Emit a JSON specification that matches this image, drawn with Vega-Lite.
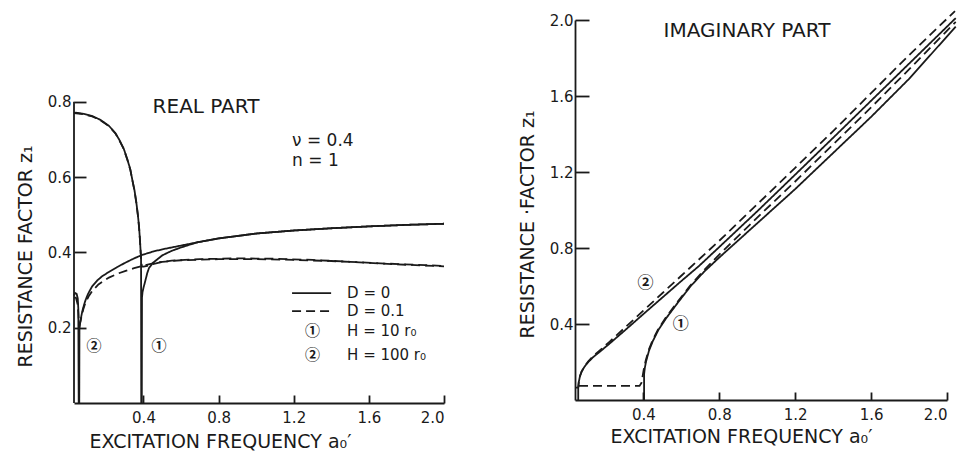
{
  "$schema": "https://vega.github.io/schema/vega-lite/v6.json",
  "background": "white",
  "padding": {"left": 16, "top": 7, "right": 5, "bottom": 5},
  "spacing": 131,
  "bounds": "flush",
  "config": {
    "font": "DejaVu Sans",
    "view": {"stroke": null},
    "axis": {
      "grid": false,
      "domainColor": "#1a1a1a",
      "tickColor": "#1a1a1a",
      "labelColor": "#1a1a1a",
      "titleColor": "#1a1a1a",
      "labelFont": "DejaVu Sans",
      "titleFont": "DejaVu Sans",
      "titleFontWeight": "normal",
      "domainWidth": 1.8,
      "tickWidth": 1.8,
      "labelFontSize": 15,
      "titleFontSize": 19
    }
  },
  "datasets": {
    "leftCurves": [
      {"curve": "s1", "dash": "solid", "i": 1, "x": 0.03, "y": 0.77},
      {"curve": "s1", "dash": "solid", "i": 2, "x": 0.04, "y": 0.771},
      {"curve": "s1", "dash": "solid", "i": 3, "x": 0.08, "y": 0.768},
      {"curve": "s1", "dash": "solid", "i": 4, "x": 0.127, "y": 0.762},
      {"curve": "s1", "dash": "solid", "i": 5, "x": 0.17, "y": 0.752},
      {"curve": "s1", "dash": "solid", "i": 6, "x": 0.216, "y": 0.736},
      {"curve": "s1", "dash": "solid", "i": 7, "x": 0.25, "y": 0.717},
      {"curve": "s1", "dash": "solid", "i": 8, "x": 0.27, "y": 0.7},
      {"curve": "s1", "dash": "solid", "i": 9, "x": 0.295, "y": 0.675},
      {"curve": "s1", "dash": "solid", "i": 10, "x": 0.314, "y": 0.647},
      {"curve": "s1", "dash": "solid", "i": 11, "x": 0.33, "y": 0.62},
      {"curve": "s1", "dash": "solid", "i": 12, "x": 0.34, "y": 0.594},
      {"curve": "s1", "dash": "solid", "i": 13, "x": 0.352, "y": 0.565},
      {"curve": "s1", "dash": "solid", "i": 14, "x": 0.362, "y": 0.532},
      {"curve": "s1", "dash": "solid", "i": 15, "x": 0.37, "y": 0.5},
      {"curve": "s1", "dash": "solid", "i": 16, "x": 0.376, "y": 0.47},
      {"curve": "s1", "dash": "solid", "i": 17, "x": 0.381, "y": 0.435},
      {"curve": "s1", "dash": "solid", "i": 18, "x": 0.385, "y": 0.4},
      {"curve": "s1", "dash": "solid", "i": 19, "x": 0.387, "y": 0.39},
      {"curve": "s1", "dash": "solid", "i": 20, "x": 0.388, "y": 0.0},
      {"curve": "s1", "dash": "solid", "i": 21, "x": 0.391, "y": 0.0},
      {"curve": "s1", "dash": "solid", "i": 22, "x": 0.392, "y": 0.28},
      {"curve": "s1", "dash": "solid", "i": 23, "x": 0.395, "y": 0.295},
      {"curve": "s1", "dash": "solid", "i": 24, "x": 0.4, "y": 0.306},
      {"curve": "s1", "dash": "solid", "i": 25, "x": 0.41, "y": 0.325},
      {"curve": "s1", "dash": "solid", "i": 26, "x": 0.42, "y": 0.345},
      {"curve": "s1", "dash": "solid", "i": 27, "x": 0.429, "y": 0.358},
      {"curve": "s1", "dash": "solid", "i": 28, "x": 0.45, "y": 0.372},
      {"curve": "s1", "dash": "solid", "i": 29, "x": 0.5, "y": 0.392},
      {"curve": "s1", "dash": "solid", "i": 30, "x": 0.55, "y": 0.404},
      {"curve": "s1", "dash": "solid", "i": 31, "x": 0.6, "y": 0.413},
      {"curve": "s1", "dash": "solid", "i": 32, "x": 0.65, "y": 0.421},
      {"curve": "s1", "dash": "solid", "i": 33, "x": 0.69, "y": 0.427},
      {"curve": "s1", "dash": "solid", "i": 34, "x": 0.8, "y": 0.437},
      {"curve": "s1", "dash": "solid", "i": 35, "x": 1.0, "y": 0.45},
      {"curve": "s1", "dash": "solid", "i": 36, "x": 1.2, "y": 0.458},
      {"curve": "s1", "dash": "solid", "i": 37, "x": 1.4, "y": 0.464},
      {"curve": "s1", "dash": "solid", "i": 38, "x": 1.6, "y": 0.469},
      {"curve": "s1", "dash": "solid", "i": 39, "x": 1.8, "y": 0.473},
      {"curve": "s1", "dash": "solid", "i": 40, "x": 2.0, "y": 0.476},

      {"curve": "s2", "dash": "solid", "i": 1, "x": 0.03, "y": 0.285},
      {"curve": "s2", "dash": "solid", "i": 2, "x": 0.036, "y": 0.292},
      {"curve": "s2", "dash": "solid", "i": 3, "x": 0.044, "y": 0.29},
      {"curve": "s2", "dash": "solid", "i": 4, "x": 0.05, "y": 0.278},
      {"curve": "s2", "dash": "solid", "i": 5, "x": 0.053, "y": 0.25},
      {"curve": "s2", "dash": "solid", "i": 6, "x": 0.055, "y": 0.0},
      {"curve": "s2", "dash": "solid", "i": 7, "x": 0.058, "y": 0.0},
      {"curve": "s2", "dash": "solid", "i": 8, "x": 0.059, "y": 0.195},
      {"curve": "s2", "dash": "solid", "i": 9, "x": 0.062, "y": 0.21},
      {"curve": "s2", "dash": "solid", "i": 10, "x": 0.068, "y": 0.228},
      {"curve": "s2", "dash": "solid", "i": 11, "x": 0.074, "y": 0.243},
      {"curve": "s2", "dash": "solid", "i": 12, "x": 0.083, "y": 0.26},
      {"curve": "s2", "dash": "solid", "i": 13, "x": 0.092, "y": 0.274},
      {"curve": "s2", "dash": "solid", "i": 14, "x": 0.105, "y": 0.29},
      {"curve": "s2", "dash": "solid", "i": 15, "x": 0.127, "y": 0.31},
      {"curve": "s2", "dash": "solid", "i": 16, "x": 0.155, "y": 0.326},
      {"curve": "s2", "dash": "solid", "i": 17, "x": 0.181, "y": 0.337},
      {"curve": "s2", "dash": "solid", "i": 18, "x": 0.216, "y": 0.348},
      {"curve": "s2", "dash": "solid", "i": 19, "x": 0.26, "y": 0.361},
      {"curve": "s2", "dash": "solid", "i": 20, "x": 0.305, "y": 0.373},
      {"curve": "s2", "dash": "solid", "i": 21, "x": 0.35, "y": 0.384},
      {"curve": "s2", "dash": "solid", "i": 22, "x": 0.392, "y": 0.393},
      {"curve": "s2", "dash": "solid", "i": 23, "x": 0.45, "y": 0.402},
      {"curve": "s2", "dash": "solid", "i": 24, "x": 0.5, "y": 0.408},
      {"curve": "s2", "dash": "solid", "i": 25, "x": 0.6, "y": 0.418},
      {"curve": "s2", "dash": "solid", "i": 26, "x": 0.69, "y": 0.427},
      {"curve": "s2", "dash": "solid", "i": 27, "x": 0.8, "y": 0.437},
      {"curve": "s2", "dash": "solid", "i": 28, "x": 1.0, "y": 0.45},
      {"curve": "s2", "dash": "solid", "i": 29, "x": 1.2, "y": 0.458},
      {"curve": "s2", "dash": "solid", "i": 30, "x": 1.4, "y": 0.464},
      {"curve": "s2", "dash": "solid", "i": 31, "x": 1.6, "y": 0.469},
      {"curve": "s2", "dash": "solid", "i": 32, "x": 1.8, "y": 0.473},
      {"curve": "s2", "dash": "solid", "i": 33, "x": 2.0, "y": 0.476},

      {"curve": "d1", "dash": "dashed", "i": 1, "x": 0.03, "y": 0.77},
      {"curve": "d1", "dash": "dashed", "i": 2, "x": 0.08, "y": 0.767},
      {"curve": "d1", "dash": "dashed", "i": 3, "x": 0.127, "y": 0.761},
      {"curve": "d1", "dash": "dashed", "i": 4, "x": 0.17, "y": 0.751},
      {"curve": "d1", "dash": "dashed", "i": 5, "x": 0.216, "y": 0.735},
      {"curve": "d1", "dash": "dashed", "i": 6, "x": 0.25, "y": 0.716},
      {"curve": "d1", "dash": "dashed", "i": 7, "x": 0.27, "y": 0.699},
      {"curve": "d1", "dash": "dashed", "i": 8, "x": 0.295, "y": 0.674},
      {"curve": "d1", "dash": "dashed", "i": 9, "x": 0.314, "y": 0.646},
      {"curve": "d1", "dash": "dashed", "i": 10, "x": 0.33, "y": 0.619},
      {"curve": "d1", "dash": "dashed", "i": 11, "x": 0.34, "y": 0.593},
      {"curve": "d1", "dash": "dashed", "i": 12, "x": 0.352, "y": 0.564},
      {"curve": "d1", "dash": "dashed", "i": 13, "x": 0.362, "y": 0.531},
      {"curve": "d1", "dash": "dashed", "i": 14, "x": 0.37, "y": 0.499},
      {"curve": "d1", "dash": "dashed", "i": 15, "x": 0.376, "y": 0.469},
      {"curve": "d1", "dash": "dashed", "i": 16, "x": 0.381, "y": 0.434},
      {"curve": "d1", "dash": "dashed", "i": 17, "x": 0.385, "y": 0.4},
      {"curve": "d1", "dash": "dashed", "i": 18, "x": 0.388, "y": 0.375},
      {"curve": "d1", "dash": "dashed", "i": 19, "x": 0.392, "y": 0.362},
      {"curve": "d1", "dash": "dashed", "i": 20, "x": 0.4, "y": 0.362},
      {"curve": "d1", "dash": "dashed", "i": 21, "x": 0.42, "y": 0.364},
      {"curve": "d1", "dash": "dashed", "i": 22, "x": 0.45, "y": 0.369},
      {"curve": "d1", "dash": "dashed", "i": 23, "x": 0.483, "y": 0.373},
      {"curve": "d1", "dash": "dashed", "i": 24, "x": 0.55, "y": 0.378},
      {"curve": "d1", "dash": "dashed", "i": 25, "x": 0.7, "y": 0.382},
      {"curve": "d1", "dash": "dashed", "i": 26, "x": 0.9, "y": 0.384},
      {"curve": "d1", "dash": "dashed", "i": 27, "x": 1.1, "y": 0.383},
      {"curve": "d1", "dash": "dashed", "i": 28, "x": 1.3, "y": 0.38},
      {"curve": "d1", "dash": "dashed", "i": 29, "x": 1.5, "y": 0.375},
      {"curve": "d1", "dash": "dashed", "i": 30, "x": 1.7, "y": 0.37},
      {"curve": "d1", "dash": "dashed", "i": 31, "x": 1.9, "y": 0.366},
      {"curve": "d1", "dash": "dashed", "i": 32, "x": 2.0, "y": 0.364},

      {"curve": "d2", "dash": "dashed", "i": 1, "x": 0.03, "y": 0.28},
      {"curve": "d2", "dash": "dashed", "i": 2, "x": 0.04, "y": 0.28},
      {"curve": "d2", "dash": "dashed", "i": 3, "x": 0.048, "y": 0.265},
      {"curve": "d2", "dash": "dashed", "i": 4, "x": 0.053, "y": 0.24},
      {"curve": "d2", "dash": "dashed", "i": 5, "x": 0.056, "y": 0.215},
      {"curve": "d2", "dash": "dashed", "i": 6, "x": 0.06, "y": 0.208},
      {"curve": "d2", "dash": "dashed", "i": 7, "x": 0.068, "y": 0.225},
      {"curve": "d2", "dash": "dashed", "i": 8, "x": 0.08, "y": 0.25},
      {"curve": "d2", "dash": "dashed", "i": 9, "x": 0.092, "y": 0.268},
      {"curve": "d2", "dash": "dashed", "i": 10, "x": 0.11, "y": 0.285},
      {"curve": "d2", "dash": "dashed", "i": 11, "x": 0.127, "y": 0.297},
      {"curve": "d2", "dash": "dashed", "i": 12, "x": 0.16, "y": 0.315},
      {"curve": "d2", "dash": "dashed", "i": 13, "x": 0.216, "y": 0.333},
      {"curve": "d2", "dash": "dashed", "i": 14, "x": 0.26, "y": 0.343},
      {"curve": "d2", "dash": "dashed", "i": 15, "x": 0.305, "y": 0.351},
      {"curve": "d2", "dash": "dashed", "i": 16, "x": 0.35, "y": 0.358},
      {"curve": "d2", "dash": "dashed", "i": 17, "x": 0.392, "y": 0.364},
      {"curve": "d2", "dash": "dashed", "i": 18, "x": 0.45, "y": 0.371},
      {"curve": "d2", "dash": "dashed", "i": 19, "x": 0.5, "y": 0.375},
      {"curve": "d2", "dash": "dashed", "i": 20, "x": 0.6, "y": 0.379},
      {"curve": "d2", "dash": "dashed", "i": 21, "x": 0.8, "y": 0.382},
      {"curve": "d2", "dash": "dashed", "i": 22, "x": 1.0, "y": 0.382},
      {"curve": "d2", "dash": "dashed", "i": 23, "x": 1.2, "y": 0.38},
      {"curve": "d2", "dash": "dashed", "i": 24, "x": 1.4, "y": 0.377},
      {"curve": "d2", "dash": "dashed", "i": 25, "x": 1.6, "y": 0.372},
      {"curve": "d2", "dash": "dashed", "i": 26, "x": 1.8, "y": 0.367},
      {"curve": "d2", "dash": "dashed", "i": 27, "x": 2.0, "y": 0.363},

      {"curve": "legS", "dash": "solid", "i": 1, "x": 1.191, "y": 0.292},
      {"curve": "legS", "dash": "solid", "i": 2, "x": 1.399, "y": 0.292},
      {"curve": "legD", "dash": "dashed", "i": 1, "x": 1.191, "y": 0.244},
      {"curve": "legD", "dash": "dashed", "i": 2, "x": 1.399, "y": 0.244}
    ],
    "rightCurves": [
      {"curve": "s2", "dash": "solid", "i": 1, "x": 0.057, "y": 0.0},
      {"curve": "s2", "dash": "solid", "i": 2, "x": 0.057, "y": 0.065},
      {"curve": "s2", "dash": "solid", "i": 3, "x": 0.06, "y": 0.095},
      {"curve": "s2", "dash": "solid", "i": 4, "x": 0.066, "y": 0.125},
      {"curve": "s2", "dash": "solid", "i": 5, "x": 0.075, "y": 0.15},
      {"curve": "s2", "dash": "solid", "i": 6, "x": 0.09, "y": 0.175},
      {"curve": "s2", "dash": "solid", "i": 7, "x": 0.11, "y": 0.2},
      {"curve": "s2", "dash": "solid", "i": 8, "x": 0.135, "y": 0.225},
      {"curve": "s2", "dash": "solid", "i": 9, "x": 0.166, "y": 0.25},
      {"curve": "s2", "dash": "solid", "i": 10, "x": 0.22, "y": 0.295},
      {"curve": "s2", "dash": "solid", "i": 11, "x": 0.3, "y": 0.364},
      {"curve": "s2", "dash": "solid", "i": 12, "x": 0.4, "y": 0.452},
      {"curve": "s2", "dash": "solid", "i": 13, "x": 0.5, "y": 0.539},
      {"curve": "s2", "dash": "solid", "i": 14, "x": 0.6, "y": 0.626},
      {"curve": "s2", "dash": "solid", "i": 15, "x": 0.693, "y": 0.705},
      {"curve": "s2", "dash": "solid", "i": 16, "x": 0.8, "y": 0.805},
      {"curve": "s2", "dash": "solid", "i": 17, "x": 1.0, "y": 0.993},
      {"curve": "s2", "dash": "solid", "i": 18, "x": 1.2, "y": 1.186},
      {"curve": "s2", "dash": "solid", "i": 19, "x": 1.4, "y": 1.38},
      {"curve": "s2", "dash": "solid", "i": 20, "x": 1.6, "y": 1.575},
      {"curve": "s2", "dash": "solid", "i": 21, "x": 1.8, "y": 1.77},
      {"curve": "s2", "dash": "solid", "i": 22, "x": 2.046, "y": 2.01},

      {"curve": "d2", "dash": "dashed", "i": 1, "x": 0.04, "y": 0.065},
      {"curve": "d2", "dash": "dashed", "i": 2, "x": 0.057, "y": 0.065},
      {"curve": "d2", "dash": "dashed", "i": 3, "x": 0.06, "y": 0.095},
      {"curve": "d2", "dash": "dashed", "i": 4, "x": 0.066, "y": 0.125},
      {"curve": "d2", "dash": "dashed", "i": 5, "x": 0.075, "y": 0.15},
      {"curve": "d2", "dash": "dashed", "i": 6, "x": 0.09, "y": 0.177},
      {"curve": "d2", "dash": "dashed", "i": 7, "x": 0.11, "y": 0.203},
      {"curve": "d2", "dash": "dashed", "i": 8, "x": 0.135, "y": 0.23},
      {"curve": "d2", "dash": "dashed", "i": 9, "x": 0.166, "y": 0.257},
      {"curve": "d2", "dash": "dashed", "i": 10, "x": 0.22, "y": 0.305},
      {"curve": "d2", "dash": "dashed", "i": 11, "x": 0.3, "y": 0.378},
      {"curve": "d2", "dash": "dashed", "i": 12, "x": 0.4, "y": 0.47},
      {"curve": "d2", "dash": "dashed", "i": 13, "x": 0.5, "y": 0.562},
      {"curve": "d2", "dash": "dashed", "i": 14, "x": 0.6, "y": 0.654},
      {"curve": "d2", "dash": "dashed", "i": 15, "x": 0.7, "y": 0.746},
      {"curve": "d2", "dash": "dashed", "i": 16, "x": 0.8, "y": 0.838},
      {"curve": "d2", "dash": "dashed", "i": 17, "x": 1.0, "y": 1.03},
      {"curve": "d2", "dash": "dashed", "i": 18, "x": 1.2, "y": 1.222},
      {"curve": "d2", "dash": "dashed", "i": 19, "x": 1.4, "y": 1.415},
      {"curve": "d2", "dash": "dashed", "i": 20, "x": 1.6, "y": 1.615},
      {"curve": "d2", "dash": "dashed", "i": 21, "x": 1.8, "y": 1.815},
      {"curve": "d2", "dash": "dashed", "i": 22, "x": 2.042, "y": 2.047},

      {"curve": "s1", "dash": "solid", "i": 1, "x": 0.404, "y": 0.0},
      {"curve": "s1", "dash": "solid", "i": 2, "x": 0.404, "y": 0.135},
      {"curve": "s1", "dash": "solid", "i": 3, "x": 0.408, "y": 0.17},
      {"curve": "s1", "dash": "solid", "i": 4, "x": 0.415, "y": 0.205},
      {"curve": "s1", "dash": "solid", "i": 5, "x": 0.43, "y": 0.26},
      {"curve": "s1", "dash": "solid", "i": 6, "x": 0.45, "y": 0.31},
      {"curve": "s1", "dash": "solid", "i": 7, "x": 0.48, "y": 0.37},
      {"curve": "s1", "dash": "solid", "i": 8, "x": 0.52, "y": 0.43},
      {"curve": "s1", "dash": "solid", "i": 9, "x": 0.58, "y": 0.51},
      {"curve": "s1", "dash": "solid", "i": 10, "x": 0.65, "y": 0.6},
      {"curve": "s1", "dash": "solid", "i": 11, "x": 0.72, "y": 0.675},
      {"curve": "s1", "dash": "solid", "i": 12, "x": 0.8, "y": 0.75},
      {"curve": "s1", "dash": "solid", "i": 13, "x": 1.0, "y": 0.93},
      {"curve": "s1", "dash": "solid", "i": 14, "x": 1.2, "y": 1.11},
      {"curve": "s1", "dash": "solid", "i": 15, "x": 1.4, "y": 1.3},
      {"curve": "s1", "dash": "solid", "i": 16, "x": 1.6, "y": 1.49},
      {"curve": "s1", "dash": "solid", "i": 17, "x": 1.8, "y": 1.69},
      {"curve": "s1", "dash": "solid", "i": 18, "x": 2.046, "y": 1.965},

      {"curve": "d1", "dash": "dashed", "i": 1, "x": 0.061, "y": 0.074},
      {"curve": "d1", "dash": "dashed", "i": 2, "x": 0.38, "y": 0.074},
      {"curve": "d1", "dash": "dashed", "i": 3, "x": 0.39, "y": 0.09},
      {"curve": "d1", "dash": "dashed", "i": 4, "x": 0.397, "y": 0.13},
      {"curve": "d1", "dash": "dashed", "i": 5, "x": 0.404, "y": 0.17},
      {"curve": "d1", "dash": "dashed", "i": 6, "x": 0.412, "y": 0.205},
      {"curve": "d1", "dash": "dashed", "i": 7, "x": 0.427, "y": 0.26},
      {"curve": "d1", "dash": "dashed", "i": 8, "x": 0.447, "y": 0.31},
      {"curve": "d1", "dash": "dashed", "i": 9, "x": 0.477, "y": 0.37},
      {"curve": "d1", "dash": "dashed", "i": 10, "x": 0.516, "y": 0.43},
      {"curve": "d1", "dash": "dashed", "i": 11, "x": 0.575, "y": 0.51},
      {"curve": "d1", "dash": "dashed", "i": 12, "x": 0.645, "y": 0.6},
      {"curve": "d1", "dash": "dashed", "i": 13, "x": 0.715, "y": 0.678},
      {"curve": "d1", "dash": "dashed", "i": 14, "x": 0.8, "y": 0.765},
      {"curve": "d1", "dash": "dashed", "i": 15, "x": 1.0, "y": 0.96},
      {"curve": "d1", "dash": "dashed", "i": 16, "x": 1.2, "y": 1.15},
      {"curve": "d1", "dash": "dashed", "i": 17, "x": 1.4, "y": 1.345},
      {"curve": "d1", "dash": "dashed", "i": 18, "x": 1.6, "y": 1.54},
      {"curve": "d1", "dash": "dashed", "i": 19, "x": 1.8, "y": 1.74},
      {"curve": "d1", "dash": "dashed", "i": 20, "x": 2.046, "y": 1.99}
    ],
    "leftAxisLine": [{"x": 0.03, "y": 0, "y2": 0.8}],
    "leftTitle": [{"x": 0.733, "y": 0.786, "t": "REAL PART"}],
    "leftParams": [
      {"x": 1.191, "y": 0.696, "t": "ν = 0.4"},
      {"x": 1.191, "y": 0.643, "t": "n = 1"}
    ],
    "leftLegendText": [
      {"x": 1.484, "y": 0.292, "t": "D = 0"},
      {"x": 1.484, "y": 0.244, "t": "D = 0.1"},
      {"x": 1.484, "y": 0.19, "t": "H = 10 r₀"},
      {"x": 1.484, "y": 0.128, "t": "H = 100 r₀"}
    ],
    "leftMarkers": [
      {"x": 0.136, "y": 0.151, "t": "②"},
      {"x": 0.483, "y": 0.151, "t": "①"},
      {"x": 1.3, "y": 0.19, "t": "①"},
      {"x": 1.3, "y": 0.128, "t": "②"}
    ],
    "rightTitle": [{"x": 0.946, "y": 1.942, "t": "IMAGINARY PART"}],
    "rightMarkers": [
      {"x": 0.412, "y": 0.617, "t": "②"},
      {"x": 0.597, "y": 0.398, "t": "①"}
    ]
  },
  "hconcat": [
    {
      "width": 370,
      "height": 383,
      "encoding": {
        "x": {
          "field": "x", "type": "quantitative",
          "scale": {"domain": [0.03, 2.0], "nice": false, "zero": false},
          "axis": {
            "values": [0.4, 0.8, 1.2, 1.6, 2.0], "format": ".1f",
            "tickSize": -8, "labelPadding": 15,
            "title": "EXCITATION FREQUENCY a₀′",
            "titleX": 146, "titleY": 38, "titleAlign": "center", "titleBaseline": "middle"
          }
        },
        "y": {
          "field": "y", "type": "quantitative",
          "scale": {"domain": [0, 1.017], "nice": false, "zero": false},
          "axis": {
            "values": [0.2, 0.4, 0.6, 0.8], "format": ".1f",
            "domain": false,
            "tickSize": -12, "labelPadding": 15,
            "title": "RESISTANCE FACTOR z₁",
            "titleX": -49, "titleY": 236, "titleAngle": -90, "titleAlign": "center", "titleBaseline": "middle"
          }
        }
      },
      "layer": [
        {
          "data": {"name": "leftAxisLine"},
          "mark": {"type": "rule", "strokeWidth": 1.8, "color": "#1a1a1a"},
          "encoding": {"y2": {"field": "y2"}}
        },
        {
          "data": {"name": "leftCurves"},
          "mark": {"type": "line", "strokeWidth": 1.8, "color": "#1a1a1a"},
          "encoding": {
            "detail": {"field": "curve", "type": "nominal"},
            "order": {"field": "i", "type": "quantitative"},
            "strokeDash": {"field": "dash", "type": "nominal", "scale": {"domain": ["solid", "dashed"], "range": [[1, 0], [9, 5]]}, "legend": null}
          }
        },
        {
          "data": {"name": "leftTitle"},
          "mark": {"type": "text", "fontSize": 20, "align": "center", "baseline": "middle", "color": "#1a1a1a"},
          "encoding": {"text": {"field": "t"}}
        },
        {
          "data": {"name": "leftParams"},
          "mark": {"type": "text", "fontSize": 17, "align": "left", "baseline": "middle", "color": "#1a1a1a"},
          "encoding": {"text": {"field": "t"}}
        },
        {
          "data": {"name": "leftLegendText"},
          "mark": {"type": "text", "fontSize": 15, "align": "left", "baseline": "middle", "color": "#1a1a1a"},
          "encoding": {"text": {"field": "t"}}
        },
        {
          "data": {"name": "leftMarkers"},
          "mark": {"type": "text", "font": "Noto Sans CJK JP", "fontSize": 15, "align": "center", "baseline": "middle", "color": "#1a1a1a", "fontWeight": "bold"},
          "encoding": {"text": {"field": "t"}}
        }
      ]
    },
    {
      "width": 372,
      "height": 380,
      "encoding": {
        "x": {
          "field": "x", "type": "quantitative",
          "scale": {"domain": [0.04, 2.0], "nice": false, "zero": false},
          "axis": {
            "values": [0.4, 0.8, 1.2, 1.6, 2.0], "format": ".1f",
            "tickSize": -8, "labelPadding": 15,
            "title": "EXCITATION FREQUENCY a₀′",
            "titleX": 166, "titleY": 36, "titleAlign": "center", "titleBaseline": "middle"
          }
        },
        "y": {
          "field": "y", "type": "quantitative",
          "scale": {"domain": [0, 2.0], "nice": false, "zero": false},
          "axis": {
            "values": [0.4, 0.8, 1.2, 1.6, 2.0], "format": ".1f",
            "tickSize": -14, "labelPadding": 16,
            "title": "RESISTANCE ·FACTOR z₁",
            "titleX": -48, "titleY": 204, "titleAngle": -90, "titleAlign": "center", "titleBaseline": "middle"
          }
        }
      },
      "layer": [
        {
          "data": {"name": "rightCurves"},
          "mark": {"type": "line", "strokeWidth": 1.8, "color": "#1a1a1a"},
          "encoding": {
            "detail": {"field": "curve", "type": "nominal"},
            "order": {"field": "i", "type": "quantitative"},
            "strokeDash": {"field": "dash", "type": "nominal", "scale": {"domain": ["solid", "dashed"], "range": [[1, 0], [9, 5]]}, "legend": null}
          }
        },
        {
          "data": {"name": "rightTitle"},
          "mark": {"type": "text", "fontSize": 20, "align": "center", "baseline": "middle", "color": "#1a1a1a"},
          "encoding": {"text": {"field": "t"}}
        },
        {
          "data": {"name": "rightMarkers"},
          "mark": {"type": "text", "font": "Noto Sans CJK JP", "fontSize": 16, "align": "center", "baseline": "middle", "color": "#1a1a1a", "fontWeight": "bold"},
          "encoding": {"text": {"field": "t"}}
        }
      ]
    }
  ]
}
